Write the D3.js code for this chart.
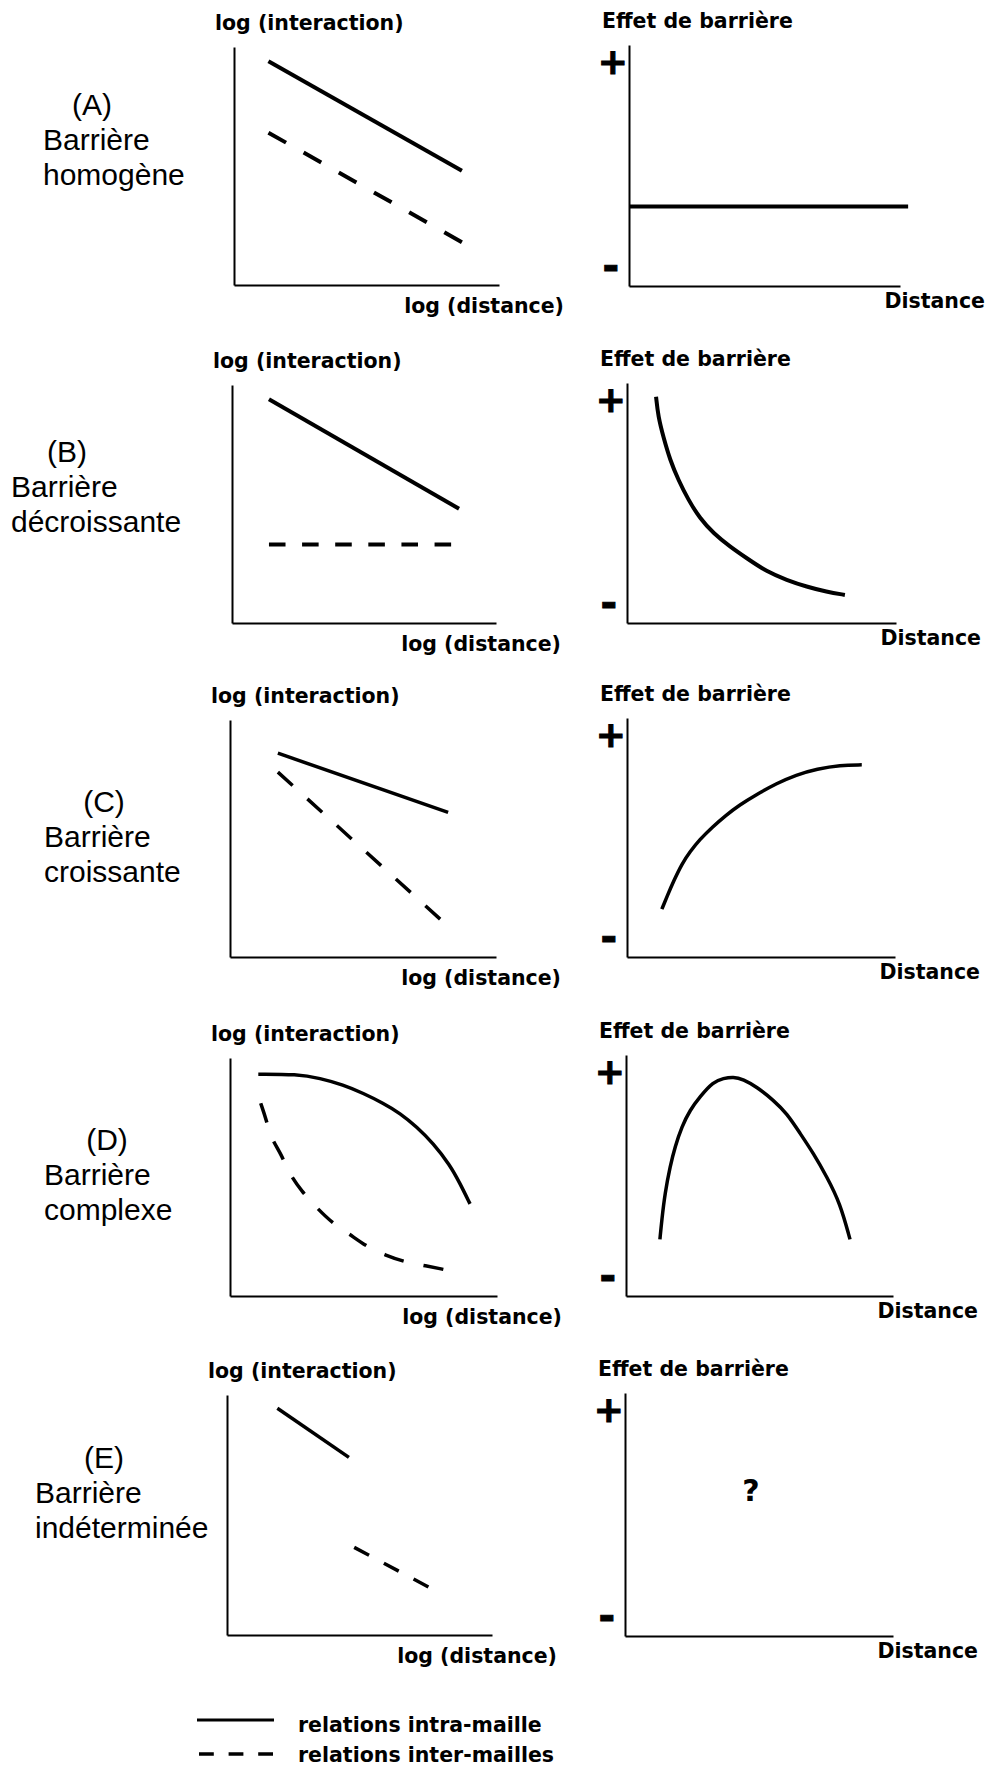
<!DOCTYPE html>
<html>
<head>
<meta charset="utf-8">
<script src="https://cdn.jsdelivr.net/npm/d3@7"></script>
<style>
  body { margin: 0; background: #fff; }
  svg { display: block; background: #fff; }
  .lbl { font-family: "DejaVu Sans", Verdana, sans-serif; font-weight: bold; font-size: 20.5px; fill: #000; }
  .name { font-family: "Liberation Sans", Arial, sans-serif; font-size: 30px; fill: #000; }
</style>
</head>
<body>
<svg id="chart"></svg>
<script>
const width = 990;
const height = 1767;

const rowLetters = ["(A)", "(B)", "(C)", "(D)", "(E)"];
const rowKinds = ["homogène", "décroissante", "croissante", "complexe", "indéterminée"];

// left panels, log(interaction) vs log(distance), values in % of the axes
const intraA = [[13, 94], [86, 48]];
const interA = [[13, 64], [86, 18]];
const intraB = [[14, 94], [86, 48]];
const interB = [[14, 33], [83, 33]];
const intraC = [[18, 86], [82, 61]];
const interC = [[18, 78], [79, 16]];
const intraD = [[10.6, 93.2], [25, 93.2], [33.7, 91.5], [42.4, 88.7], [49.9, 85.2], [57.4, 81],
  [63.7, 76.8], [69.9, 71.1], [76.1, 64.2], [82.4, 55], [86.1, 47.4], [89.9, 38.7]];
const interD = [[11.5, 81], [13.7, 73.7], [15.2, 66.7], [19.4, 59.2], [21.8, 52.2], [26.9, 43.8],
  [32.7, 36.8], [38.5, 30.5], [44.7, 26.1], [51.2, 20.7], [58.1, 17.2], [65.2, 14.4], [71.8, 13], [79.9, 11.2]];
const intraE = [[19, 94.5], [46, 74]];
const interE = [[48, 36.5], [76, 20]];

// right panels, barrier effect vs distance
const effectA = [[0, 33], [103, 33]];
const effectB = [[10.8, 94.3], [11.6, 86], [13.5, 77.6], [16, 67.9], [19.1, 59.6], [22.8, 51.3],
  [27.1, 43.6], [32.1, 37.4], [38.3, 31.8], [44.5, 27], [51.9, 21.4], [59.4, 17.9], [66.8, 15.1],
  [74.2, 13], [81, 11.7]];
const effectC = [[13, 20], [15, 25.5], [17.5, 32], [20.5, 39], [23.5, 44], [27, 49], [32, 54.5],
  [37, 59.4], [42, 63.6], [48, 67.8], [56, 72.7], [63, 76.2], [71, 78.7], [79.5, 80.3], [87.6, 80.4]];
const effectD = [[12.7, 23.5], [13.4, 31.5], [14.6, 42.6], [16.5, 53.7], [18.4, 62], [20.9, 70.3],
  [24, 77.2], [27.7, 82.7], [32.7, 88.9], [36.5, 90.3], [40.2, 91], [43.9, 89.9], [48.9, 86.8],
  [55.2, 81.3], [60.2, 75.8], [65.2, 67.5], [70.2, 59.2], [75.2, 49.5], [80.2, 38.5], [83.9, 23.5]];
const effectE = [];
const unknownE = [[47, 60]];

const effectTicks = [8, 93];
const effectTickLabels = ["-", "+"];

const legendLabels = ["relations intra-maille", "relations inter-mailles"];

const intraSeries = [intraA, intraB, intraC, intraD, intraE];
const interSeries = [interA, interB, interC, interD, interE];
const effectSeries = [effectA, effectB, effectC, effectD, effectE];

// layout: [x0, top, x1, bottom] of each axis box
const leftBoxes = [[234, 47, 499, 285], [232, 385, 496, 623], [230, 720, 496, 957],
  [230, 1058, 497, 1296], [227, 1395, 492, 1635]];
const rightBoxes = [[629, 45, 900, 286], [627, 383, 896, 623], [627, 718, 895, 957],
  [626, 1055, 893, 1296], [625, 1393, 893, 1636]];
// [left x of name lines, baseline of "Barrière", centre of letter]
const nameLayout = [[43, 150, 92], [11, 497, 67], [44, 847, 104], [44, 1185, 107], [35, 1503, 104]];
const dashCounts = [6, 6, 6, 7, 3];
const curveWidths = [4, 4, 3.5, 3.5, 3.5];

const svg = d3.select("#chart").attr("width", width).attr("height", height);

function styleAxis(g) {
  g.select(".domain").attr("stroke", "#000").attr("stroke-width", 2);
}

const line = (x, y) => d3.line().x(d => x(d[0])).y(d => y(d[1])).curve(d3.curveBasis);

rowLetters.forEach((letter, i) => {
  // row name
  const [nx, ny, nc] = nameLayout[i];
  svg.append("text").attr("class", "name").attr("x", nc).attr("y", ny - 35)
    .attr("text-anchor", "middle").text(letter);
  svg.append("text").attr("class", "name").attr("x", nx).attr("y", ny).text("Barrière");
  svg.append("text").attr("class", "name").attr("x", nx).attr("y", ny + 35).text(rowKinds[i]);

  // left chart
  const [lx0, ly0, lx1, ly1] = leftBoxes[i];
  const xL = d3.scaleLinear().domain([0, 100]).range([lx0, lx1]);
  const yL = d3.scaleLinear().domain([0, 100]).range([ly1, ly0]);

  svg.append("g").attr("transform", `translate(0,${ly1})`)
    .call(d3.axisBottom(xL).tickValues([]).tickSizeOuter(0)).call(styleAxis);
  svg.append("g").attr("transform", `translate(${lx0},0)`)
    .call(d3.axisLeft(yL).tickValues([]).tickSizeOuter(0)).call(styleAxis);

  svg.append("text").attr("class", "lbl").attr("x", lx0 - 19).attr("y", ly0 - 17).text("log (interaction)");
  svg.append("text").attr("class", "lbl").attr("x", lx1 + 65).attr("y", ly1 + 28)
    .attr("text-anchor", "end").text("log (distance)");

  svg.append("path").datum(intraSeries[i])
    .attr("d", line(xL, yL)).attr("fill", "none").attr("stroke", "#000")
    .attr("stroke-width", curveWidths[i]);

  svg.append("path").datum(interSeries[i])
    .attr("d", line(xL, yL)).attr("fill", "none").attr("stroke", "#000")
    .attr("stroke-width", curveWidths[i])
    .attr("pathLength", 2 * dashCounts[i] - 1)
    .attr("stroke-dasharray", "1 1");

  // right chart
  const [rx0, ry0, rx1, ry1] = rightBoxes[i];
  const xR = d3.scaleLinear().domain([0, 100]).range([rx0, rx1]);
  const yR = d3.scaleLinear().domain([0, 100]).range([ry1, ry0]);

  svg.append("g").attr("transform", `translate(0,${ry1})`)
    .call(d3.axisBottom(xR).tickValues([]).tickSizeOuter(0)).call(styleAxis);
  const yAxis = svg.append("g").attr("transform", `translate(${rx0},0)`)
    .call(d3.axisLeft(yR).tickValues(effectTicks).tickFormat((d, k) => effectTickLabels[k])
      .tickSize(0).tickSizeOuter(0).tickPadding(1))
    .call(styleAxis);
  yAxis.selectAll(".tick text")
    .attr("font-family", "'DejaVu Sans', Verdana, sans-serif")
    .attr("font-weight", "bold")
    .attr("font-size", (d, k) => (k === 0 ? 40 : 36))
    .attr("x", (d, k) => (k === 0 ? -10 : -1))
    .attr("fill", "#000")
    .attr("stroke", "#000")
    .attr("stroke-width", 1);

  svg.append("text").attr("class", "lbl").attr("x", rx0 - 27).attr("y", ry0 - 17).text("Effet de barrière");
  svg.append("text").attr("class", "lbl").attr("x", rx1 + 85).attr("y", ry1 + 22)
    .attr("text-anchor", "end").text("Distance");

  if (effectSeries[i].length) {
    svg.append("path").datum(effectSeries[i])
      .attr("d", line(xR, yR)).attr("fill", "none").attr("stroke", "#000")
      .attr("stroke-width", curveWidths[i]);
  }

  if (i === 4) {
    svg.selectAll(".unknown").data(unknownE).enter().append("text")
      .attr("class", "unknown")
      .attr("x", d => xR(d[0])).attr("y", d => yR(d[1]))
      .attr("dy", "0.36em")
      .attr("text-anchor", "middle")
      .attr("font-family", "'DejaVu Sans', Verdana, sans-serif")
      .attr("font-weight", "bold").attr("font-size", 30)
      .text("?");
  }
});

// legend
const legend = svg.append("g").attr("transform", "translate(197,1720)");
legend.append("line").attr("x1", 0).attr("x2", 77).attr("y1", 0).attr("y2", 0)
  .attr("stroke", "#000").attr("stroke-width", 3);
legend.append("line").attr("x1", 2).attr("x2", 76).attr("y1", 34).attr("y2", 34)
  .attr("stroke", "#000").attr("stroke-width", 3.5)
  .attr("pathLength", 5).attr("stroke-dasharray", "1 1");
legend.selectAll(".leg").data(legendLabels).enter().append("text")
  .attr("class", "lbl leg")
  .attr("x", 101)
  .attr("y", (d, k) => 12 + k * 30)
  .text(d => d);
</script>
</body>
</html>
